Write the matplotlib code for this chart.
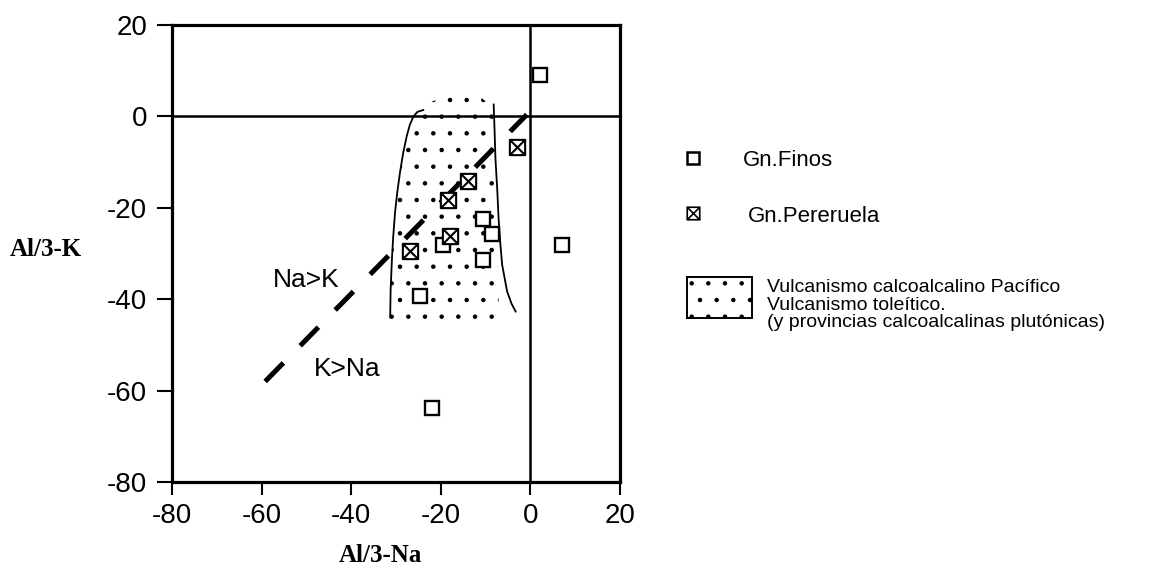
import numpy as np
import matplotlib
matplotlib.use("Agg")
import matplotlib.pyplot as plt
from matplotlib.path import Path
from matplotlib.patches import Polygon, Rectangle

plt.rcParams['font.family'] = ['Liberation Sans', 'DejaVu Sans']
plt.rcParams['hatch.linewidth'] = 0.8
plt.rcParams['axes.unicode_minus'] = False

# ---------------- data ----------------
ticks = [-80, -60, -40, -20, 0, 20]

finos_x = [2.1, 7.0, -10.5, -8.6, -10.5, -19.4, -24.6, -22.0]
finos_y = [9.1, -28.2, -22.4, -25.7, -31.5, -28.2, -39.4, -63.7]

perer_x = [-3.1, -14.0, -18.5, -17.9, -26.8]
perer_y = [-6.8, -14.1, -18.4, -26.2, -29.5]

# boundary curves of the field
left_x = [-31.3, -31.2, -30.9, -30.6, -30.2, -29.7, -29.1, -28.4, -27.6, -26.9, -26.1, -25.2, -23.9]
left_y = [-44.0, -38.0, -31.0, -26.0, -20.9, -16.5, -12.2, -8.0, -4.3, -1.8, 0.0, 1.0, 1.4]
right_x = [-8.2, -8.0, -7.8, -7.4, -7.1, -6.7, -6.3, -5.2, -4.2, -3.3]
right_y = [2.6, -3.0, -9.3, -16.0, -22.4, -28.0, -32.5, -38.3, -41.0, -42.7]

# stippled field outline
stip_x = [-31.3, -31.2, -30.9, -30.2, -29.1, -27.6, -26.1, -24.5, -22.5, -19.0, -15.0,
          -12.0, -9.8, -8.3, -8.0, -7.5, -7.2, -7.0]
stip_y = [-45.0, -38.0, -31.0, -20.9, -12.2, -4.3, 0.0, 1.8, 3.0, 4.5, 5.3,
          4.8, 3.2, 1.5, -10.0, -25.0, -35.0, -45.0]

# Na/K divider
div_x = [-59.2, -0.8]
div_y = [-58.0, 0.4]

na_k_label = ("Na>K", -50.1, -35.7)
k_na_label = ("K>Na", -40.8, -55.2)

legend_labels = ["Gn.Finos", "Gn.Pereruela"]
field_labels = ["Vulcanismo calcoalcalino Pacífico",
                "Vulcanismo toleítico.",
                "(y provincias calcoalcalinas plutónicas)"]

# crossed-square marker
crossed = Path(
    [(-1, -1), (1, -1), (1, 1), (-1, 1), (-1, -1),
     (-1, -1), (1, 1), (-1, 1), (1, -1)],
    [Path.MOVETO, Path.LINETO, Path.LINETO, Path.LINETO, Path.CLOSEPOLY,
     Path.MOVETO, Path.LINETO, Path.MOVETO, Path.LINETO])

W, H = 1157, 571
fig = plt.figure(figsize=(W / 100, H / 100), dpi=100)
ax = fig.add_axes([172 / W, 1 - 482 / H, 448 / W, 457 / H])

ax.set_xlim(-80, 20)
ax.set_ylim(-80, 20)
ax.set_xticks(ticks)
ax.set_yticks(ticks)
ax.tick_params(axis='x', direction='out', length=9, width=1.5, labelsize=20, pad=6)
ax.tick_params(axis='y', direction='out', length=11, width=1.5, labelsize=20, pad=7)
for s in ax.spines.values():
    s.set_linewidth(2.3)

ax.axhline(0, color='black', lw=1.8, zorder=2)
ax.axvline(0, color='black', lw=1.8, zorder=2)

# stippled field
poly = Polygon(np.column_stack([stip_x, stip_y]), closed=True, facecolor='none',
               edgecolor='black', linewidth=0, hatch='.', zorder=1)
ax.add_patch(poly)
ax.plot(left_x, left_y, color='black', lw=1.3, zorder=3)
ax.plot(right_x, right_y, color='black', lw=1.3, zorder=3)

# divider line
ax.plot(div_x, div_y, color='black', lw=3.6, dashes=(5.2, 4.8), solid_capstyle='butt',
        dash_capstyle='butt', zorder=3)

# points
ax.plot(finos_x, finos_y, linestyle='none', marker='s', ms=10, mfc='white',
        mec='black', mew=1.7, zorder=5)
ax.plot(perer_x, perer_y, linestyle='none', marker=crossed, ms=11, mfc='white',
        mec='black', mew=1.5, zorder=5)

ax.text(na_k_label[1], na_k_label[2], na_k_label[0], fontsize=19, ha='center', va='center')
ax.text(k_na_label[1], k_na_label[2], k_na_label[0], fontsize=19, ha='center', va='center')

serif = ['Liberation Serif', 'DejaVu Serif']
ax.set_xlabel("Al/3-Na", family=serif, fontweight='bold', fontsize=18, va='center')
ax.xaxis.set_label_coords((380 - 172) / 448, -(556 - 482) / 457)
ax.set_ylabel("Al/3-K", family=serif, fontweight='bold', fontsize=18, rotation=0,
              ha='center', va='center')
ax.yaxis.set_label_coords((46 - 172) / 448, (482 - 249) / 457)

# legend drawn in a pixel-space overlay
lg = fig.add_axes([0, 0, 1, 1], facecolor='none')
lg.set_xlim(0, W)
lg.set_ylim(H, 0)
lg.axis('off')
lg.plot([693], [158], linestyle='none', marker='s', ms=9, mfc='white', mec='black', mew=1.8)
lg.plot([693], [213], linestyle='none', marker=crossed, ms=9, mfc='white', mec='black', mew=1.2)
lg.text(743, 166.5, legend_labels[0], fontsize=16, va='baseline', ha='left')
lg.text(748, 221.5, legend_labels[1], fontsize=16, va='baseline', ha='left')
lg.add_patch(Rectangle((687, 277), 65, 41, facecolor='none', edgecolor='black',
                       lw=1.4, hatch='.'))
for txt, yb in zip(field_labels, [292, 309.5, 327]):
    lg.text(767, yb, txt, fontsize=14, va='baseline', ha='left')

fig.savefig("out.png", dpi=100)
